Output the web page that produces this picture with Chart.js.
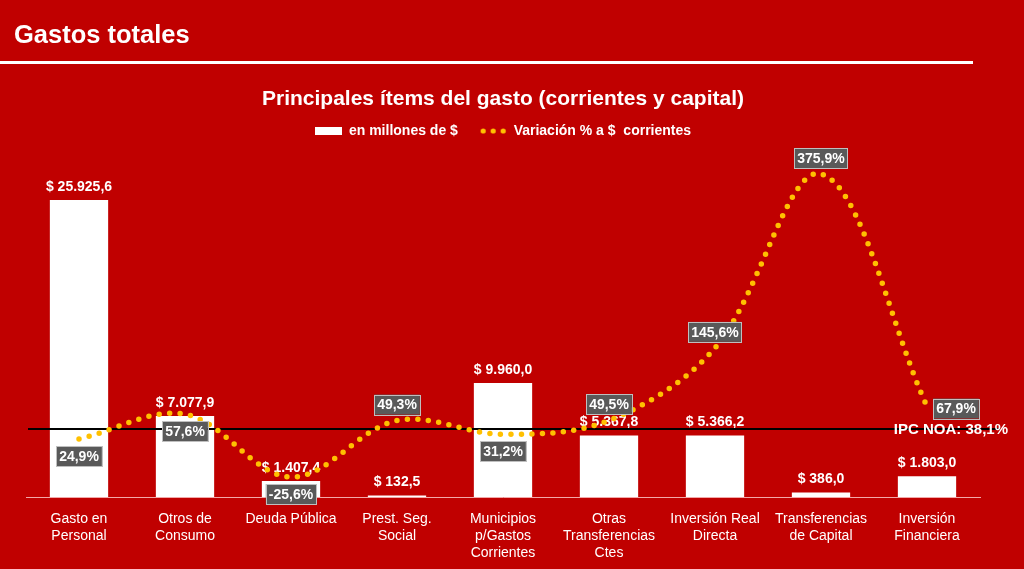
<!DOCTYPE html>
<html><head><meta charset="utf-8">
<script src="https://cdn.jsdelivr.net/npm/chart.js@4"></script>
<style>
html,body{margin:0;padding:0;background:#C00000;width:1024px;height:569px;overflow:hidden;}
#wrap{position:absolute;left:0;top:0;width:1024px;height:569px;}
#hdr{position:absolute;left:14px;top:20px;line-height:28px;font:bold 25.5px "Liberation Sans",Arial,sans-serif;color:#fff;}
#rule{position:absolute;left:0;top:61px;width:973px;height:3px;background:#fff;}
</style></head><body>
<div id="wrap"><canvas id="c"></canvas></div>
<div id="hdr">Gastos totales</div>
<div id="rule"></div>
<script>
const categories = [["Gasto en","Personal"],["Otros de","Consumo"],["Deuda Pública"],["Prest. Seg.","Social"],["Municipios","p/Gastos","Corrientes"],["Otras","Transferencias","Ctes"],["Inversión Real","Directa"],["Transferencias","de Capital"],["Inversión","Financiera"]];
const montos = [25925.6, 7077.9, 1407.4, 132.5, 9960.0, 5367.8, 5366.2, 386.0, 1803.0];
const variacion = [24.9, 57.6, -25.6, 49.3, 31.2, 49.5, 145.6, 375.9, 67.9];
const ipcNOA = 38.1;
const seriesNames = ["en millones de $", "Variación % a $  corrientes"];
const chartTitle = "Principales ítems del gasto (corrientes y capital)";

const FONT = '"Liberation Sans", Arial, sans-serif';
const varLabelPos = ['below','below','below','above','below','above','above','above','right'];

function fmtMoney(v){ const p = v.toFixed(1).split('.'); return p[0].replace(/\B(?=(\d{3})+(?!\d))/g,'.') + ',' + p[1]; }
function fmtPct(v){ return v.toFixed(1).replace('.', ',') + '%'; }

const boxImg = document.createElement('canvas'); boxImg.width = 27; boxImg.height = 8;
(function(){ const g = boxImg.getContext('2d'); g.fillStyle = '#fff'; g.fillRect(0,0,27,8); })();
const dotsImg = document.createElement('canvas'); dotsImg.width = 27; dotsImg.height = 8;
(function(){ const g = dotsImg.getContext('2d'); g.fillStyle = '#FFC000'; [3.5,13.5,23.5].forEach(x=>{ g.beginPath(); g.arc(x,4,2.6,0,Math.PI*2); g.fill(); }); })();

const labelPlugin = {
  id: 'customLabels',
  afterDatasetDraw(chart, args){
    if (args.index !== 0) return;
    const ctx = chart.ctx;
    ctx.save();
    ctx.font = 'bold 14px ' + FONT;
    ctx.fillStyle = '#fff'; ctx.textAlign = 'center'; ctx.textBaseline = 'middle';
    args.meta.data.forEach((bar, i) => { ctx.fillText('$ ' + fmtMoney(montos[i]), bar.x, bar.y - 13); });
    const y = chart.scales.y1.getPixelForValue(ipcNOA);
    ctx.strokeStyle = '#000'; ctx.lineWidth = 2;
    ctx.beginPath(); ctx.moveTo(chart.chartArea.left + 2, y); ctx.lineTo(chart.chartArea.right + 20, y); ctx.stroke();
    ctx.restore();
  },
  afterDatasetsDraw(chart){
    const ctx = chart.ctx;
    const meta = chart.getDatasetMeta(1);
    ctx.save();
    ctx.font = 'bold 14px ' + FONT;
    ctx.textAlign = 'center'; ctx.textBaseline = 'middle';
    meta.data.forEach((pt, i) => {
      const txt = fmtPct(variacion[i]);
      const w = ctx.measureText(txt).width + 6, h = 20;
      let cx = pt.x, cy = pt.y;
      const pos = varLabelPos[i];
      if (pos === 'below') cy += 17;
      else if (pos === 'above') cy -= 16;
      else { cx += 29; cy += 2; }
      ctx.fillStyle = '#595959';
      ctx.fillRect(cx - w/2, cy - h/2, w, h);
      ctx.strokeStyle = '#BFBFBF'; ctx.lineWidth = 1;
      ctx.strokeRect(Math.round(cx - w/2) + 0.5, Math.round(cy - h/2) + 0.5, Math.round(w), h);
      ctx.fillStyle = '#fff';
      ctx.fillText(txt, cx, cy + 1);
    });
    const y = chart.scales.y1.getPixelForValue(ipcNOA);
    ctx.font = 'bold 15px ' + FONT;
    ctx.textAlign = 'right';
    ctx.fillStyle = '#fff';
    ctx.fillText('IPC NOA: ' + fmtPct(ipcNOA), 1008, y + 1);
    ctx.restore();
  }
};

new Chart(document.getElementById('c'), {
  data: {
    labels: categories,
    datasets: [
      { type: 'bar', label: seriesNames[0], data: montos, backgroundColor: '#ffffff', borderWidth: 0, yAxisID: 'y', order: 2, barPercentage: 1, categoryPercentage: 0.55 },
      { type: 'line', label: seriesNames[1], data: variacion, yAxisID: 'y1', order: 1, borderColor: '#FFC000', borderWidth: 5.5, borderDash: [0, 10.5], borderCapStyle: 'round', pointRadius: 0, tension: 0.35, fill: false }
    ]
  },
  options: {
    responsive: true, maintainAspectRatio: false, animation: false,
    layout: { padding: { left: 26, right: 44, top: 80, bottom: 0 } },
    plugins: {
      title: { display: true, text: chartTitle, color: '#fff', font: { family: FONT, size: 21, weight: 'bold', lineHeight: 1 }, padding: { top: 9, bottom: 0 } },
      legend: {
        labels: {
          color: '#fff', font: { family: FONT, size: 14, weight: 'bold' }, usePointStyle: true, pointStyleWidth: 27, padding: 14,
          generateLabels(chart){
            return [
              { text: seriesNames[0] + '  ', pointStyle: boxImg, fillStyle: '#fff', strokeStyle: '#fff', lineWidth: 0, datasetIndex: 0, hidden: false, fontColor: '#fff' },
              { text: seriesNames[1], pointStyle: dotsImg, fillStyle: '#FFC000', strokeStyle: '#FFC000', lineWidth: 0, datasetIndex: 1, hidden: false, fontColor: '#fff' }
            ];
          }
        }
      },
      tooltip: { enabled: false }
    },
    scales: {
      x: {
        grid: { display: false },
        border: { display: true, color: 'rgba(255,210,210,0.8)', width: 1 },
        ticks: { color: '#fff', font: { family: FONT, size: 14, lineHeight: 1.2 }, padding: 6, maxRotation: 0, autoSkip: false },
        afterFit(s){ s.height = 72; }
      },
      y: { display: false, min: 0, max: 30464 },
      y1: { display: false, position: 'right', min: -51.9, max: 410.3 }
    }
  },
  plugins: [labelPlugin]
});
</script>
</body></html>
